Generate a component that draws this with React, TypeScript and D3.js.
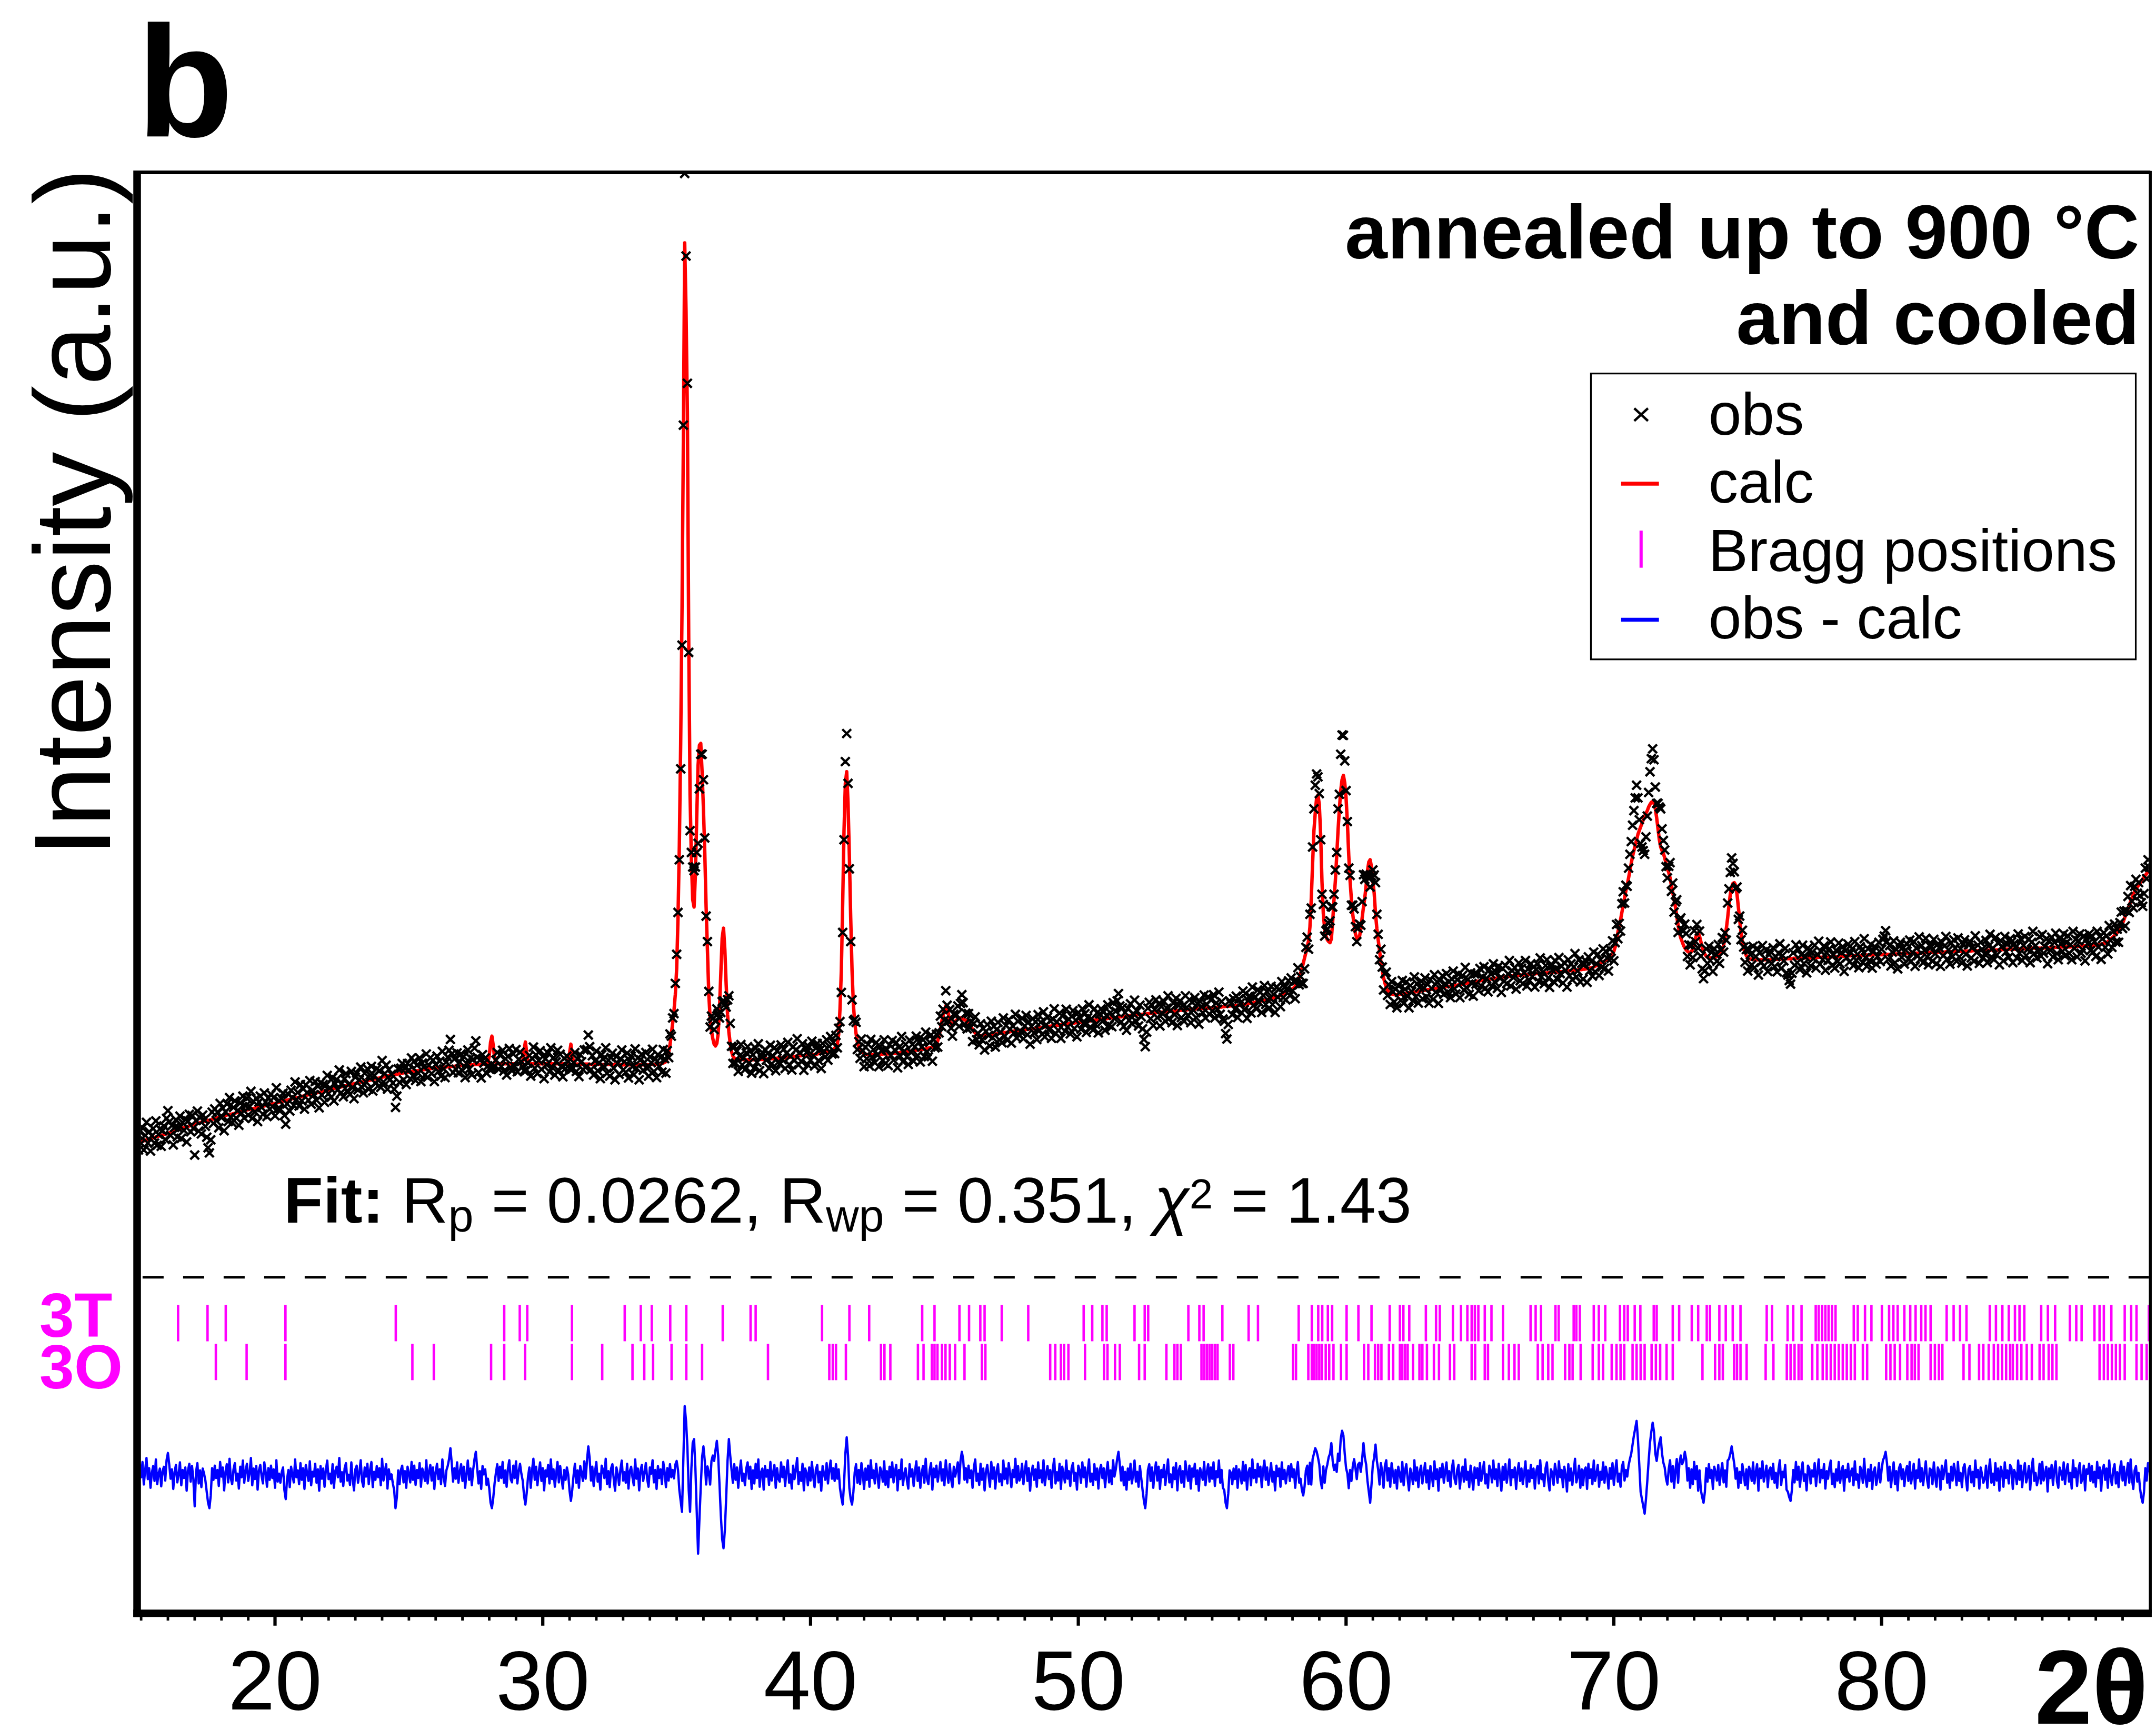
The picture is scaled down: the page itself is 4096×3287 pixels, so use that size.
import React from 'react';
import * as d3 from 'd3';

// ---------- scale of the drawing (reference px -> window px) ----------
const S = 0.691;
const r = (v: number) => v * S;
const W = 4096;
const H = 3287;

// ---------- scan definition ----------
const SCAN_START = 14.85; // 2theta of first point
const SCAN_STEP = 0.05;   // 2theta step

// calculated profile (a.u.), one row per degree of 2theta (20 points)
const calcIntensity: number[] = [
  1290,1292,1293,1295,1296,1297,1298,1300,1301,1302,1303,1304,1305,1306,1308,1309,1310,1311,1312,1313,
  1314,1315,1317,1318,1319,1321,1322,1323,1324,1326,1327,1328,1329,1331,1332,1333,1334,1336,1337,1338,
  1339,1341,1342,1343,1344,1345,1346,1347,1348,1349,1350,1351,1352,1353,1354,1355,1356,1357,1358,1360,
  1361,1362,1363,1364,1365,1366,1367,1368,1369,1370,1370,1371,1372,1373,1374,1375,1376,1377,1378,1379,
  1380,1381,1382,1383,1384,1385,1386,1386,1387,1388,1389,1390,1391,1391,1392,1393,1394,1395,1395,1397,
  1398,1398,1399,1400,1401,1402,1403,1404,1405,1406,1407,1408,1409,1410,1411,1412,1413,1414,1415,1415,
  1416,1417,1418,1419,1420,1421,1422,1423,1424,1424,1425,1426,1427,1428,1429,1430,1430,1431,1432,1433,
  1434,1435,1436,1437,1438,1439,1440,1441,1442,1442,1443,1444,1445,1446,1447,1448,1448,1449,1450,1451,
  1452,1453,1454,1455,1456,1457,1458,1458,1459,1460,1461,1462,1463,1463,1464,1465,1466,1467,1467,1469,
  1469,1470,1471,1472,1473,1473,1474,1475,1476,1476,1477,1478,1479,1479,1480,1481,1482,1482,1483,1484,
  1485,1486,1486,1487,1487,1488,1488,1489,1489,1490,1490,1491,1491,1492,1493,1493,1494,1494,1495,1496,
  1496,1497,1497,1498,1498,1498,1499,1499,1499,1500,1500,1500,1501,1501,1501,1502,1502,1502,1503,1503,
  1504,1504,1505,1505,1505,1505,1505,1506,1506,1506,1506,1506,1507,1507,1507,1507,1507,1507,1508,1508,
  1508,1509,1512,1530,1568,1585,1560,1525,1512,1509,1509,1509,1509,1509,1509,1509,1509,1509,1509,1509,
  1509,1509,1509,1509,1509,1509,1509,1510,1515,1545,1569,1540,1514,1510,1509,1509,1509,1509,1509,1509,
  1509,1509,1509,1509,1509,1509,1509,1509,1509,1509,1509,1509,1509,1509,1509,1509,1509,1509,1509,1509,
  1508,1508,1512,1538,1563,1535,1512,1508,1508,1508,1508,1508,1508,1508,1508,1508,1508,1508,1508,1507,
  1507,1507,1507,1507,1507,1507,1507,1507,1507,1507,1507,1507,1507,1507,1507,1507,1507,1507,1507,1507,
  1506,1506,1506,1506,1506,1506,1506,1506,1506,1506,1506,1506,1506,1506,1506,1506,1506,1506,1506,1506,
  1506,1506,1506,1506,1507,1507,1507,1507,1508,1508,1509,1509,1510,1511,1513,1515,1525,1540,1560,1590,
  1620,1655,1700,1770,1910,2110,2390,2760,3220,3766,3580,3300,2680,2250,2070,1960,1940,2030,2190,2330,
  2385,2390,2310,2210,2090,1940,1820,1700,1635,1600,1578,1563,1558,1565,1592,1660,1760,1855,1882,1822,
  1725,1645,1596,1565,1542,1530,1525,1523,1522,1522,1521,1521,1521,1520,1520,1520,1520,1520,1520,1520,
  1520,1520,1520,1520,1520,1521,1521,1521,1521,1522,1522,1522,1523,1523,1523,1523,1524,1524,1524,1524,
  1525,1525,1525,1525,1525,1526,1526,1527,1527,1528,1529,1529,1530,1530,1530,1531,1531,1532,1532,1532,
  1533,1533,1533,1533,1534,1534,1535,1535,1536,1537,1537,1538,1539,1539,1540,1541,1541,1542,1543,1545,
  1548,1552,1556,1562,1590,1660,1765,1950,2150,2280,2312,2225,2080,1910,1765,1672,1622,1592,1568,1555,
  1548,1543,1540,1538,1536,1535,1535,1534,1534,1534,1534,1534,1535,1535,1535,1535,1535,1536,1536,1536,
  1536,1536,1537,1537,1537,1538,1538,1538,1539,1539,1540,1540,1541,1541,1542,1542,1543,1543,1544,1545,
  1545,1546,1546,1547,1547,1548,1548,1549,1549,1550,1551,1552,1553,1554,1555,1556,1558,1563,1572,1585,
  1603,1625,1642,1656,1668,1665,1646,1627,1617,1617,1621,1625,1629,1632,1634,1635,1634,1632,1630,1628,
  1624,1620,1615,1610,1604,1598,1594,1590,1588,1587,1587,1587,1587,1588,1588,1588,1589,1589,1589,1590,
  1590,1591,1591,1592,1592,1593,1594,1594,1595,1595,1596,1596,1597,1598,1598,1599,1599,1600,1600,1601,
  1601,1602,1602,1603,1603,1604,1604,1605,1605,1606,1606,1607,1607,1608,1608,1609,1609,1610,1610,1611,
  1611,1612,1612,1613,1613,1614,1614,1615,1615,1616,1616,1617,1617,1618,1618,1619,1619,1620,1620,1621,
  1621,1622,1622,1623,1623,1624,1624,1625,1625,1626,1626,1627,1627,1628,1628,1629,1629,1630,1630,1631,
  1631,1632,1632,1633,1633,1634,1634,1635,1635,1635,1636,1636,1637,1637,1638,1638,1639,1639,1640,1640,
  1641,1641,1642,1642,1642,1643,1643,1644,1644,1644,1645,1645,1646,1646,1646,1647,1647,1648,1648,1648,
  1649,1649,1650,1650,1650,1651,1651,1651,1652,1652,1652,1653,1653,1654,1654,1654,1655,1655,1655,1656,
  1656,1656,1657,1657,1657,1658,1658,1658,1659,1659,1659,1660,1660,1660,1660,1661,1661,1661,1662,1662,
  1662,1662,1663,1663,1663,1664,1664,1664,1665,1665,1665,1666,1666,1667,1667,1667,1668,1668,1668,1669,
  1669,1669,1670,1670,1671,1671,1672,1672,1673,1673,1674,1675,1676,1676,1677,1678,1679,1680,1681,1682,
  1682,1683,1683,1684,1685,1686,1687,1688,1689,1690,1691,1692,1694,1695,1697,1699,1701,1704,1707,1709,
  1711,1712,1714,1715,1718,1722,1728,1736,1746,1758,1770,1785,1800,1815,1830,1848,1885,1962,2060,2150,
  2200,2240,2248,2222,2140,2010,1922,1880,1860,1850,1845,1842,1852,1900,1960,2012,2080,2150,2210,2260,
  2290,2302,2282,2240,2170,2082,2012,1960,1920,1890,1866,1855,1852,1858,1880,1910,1940,1966,2000,2040,
  2064,2070,2050,2012,1978,1922,1880,1850,1820,1790,1766,1746,1731,1719,1711,1706,1703,1701,1700,1699,
  1699,1699,1700,1700,1701,1701,1702,1702,1703,1703,1704,1705,1705,1706,1706,1707,1707,1708,1709,1709,
  1710,1711,1711,1712,1713,1713,1714,1714,1715,1715,1716,1717,1717,1718,1718,1719,1720,1720,1721,1721,
  1722,1722,1723,1723,1724,1725,1725,1726,1727,1727,1728,1729,1730,1730,1731,1732,1732,1733,1734,1734,
  1735,1736,1736,1737,1738,1738,1739,1739,1740,1741,1741,1742,1742,1743,1744,1744,1745,1745,1746,1747,
  1747,1748,1748,1749,1749,1749,1750,1750,1751,1751,1751,1752,1752,1752,1753,1753,1754,1754,1754,1755,
  1755,1755,1756,1756,1756,1757,1757,1757,1758,1758,1758,1758,1759,1759,1759,1760,1760,1760,1761,1761,
  1761,1761,1762,1762,1762,1763,1763,1764,1764,1764,1765,1765,1766,1766,1766,1767,1767,1768,1768,1768,
  1769,1769,1770,1770,1771,1772,1773,1774,1775,1777,1779,1781,1783,1785,1787,1789,1791,1794,1797,1800,
  1804,1808,1813,1818,1830,1850,1870,1890,1905,1925,1945,1965,1985,2000,2020,2040,2060,2080,2095,2110,
  2125,2140,2150,2160,2170,2180,2190,2198,2205,2215,2222,2228,2230,2225,2210,2185,2155,2125,2105,2095,
  2088,2075,2060,2045,2035,2020,2000,1980,1960,1940,1915,1890,1870,1855,1845,1835,1828,1822,1818,1816,
  1815,1818,1825,1838,1855,1866,1869,1860,1845,1830,1818,1810,1805,1802,1801,1800,1800,1800,1801,1802,
  1805,1808,1811,1815,1822,1835,1855,1880,1910,1945,1975,1995,2005,2007,2000,1975,1940,1905,1870,1845,
  1825,1815,1806,1801,1798,1797,1796,1796,1795,1795,1795,1795,1795,1795,1795,1795,1795,1795,1795,1795,
  1795,1795,1796,1796,1796,1796,1796,1797,1797,1797,1797,1797,1798,1798,1798,1798,1798,1799,1799,1799,
  1799,1799,1799,1799,1799,1800,1800,1800,1800,1800,1800,1801,1801,1801,1801,1801,1802,1802,1802,1802,
  1802,1802,1802,1802,1803,1803,1803,1803,1804,1804,1804,1804,1804,1805,1805,1805,1805,1806,1806,1806,
  1806,1806,1806,1806,1806,1807,1807,1807,1807,1807,1807,1808,1808,1808,1808,1808,1809,1809,1809,1809,
  1809,1809,1809,1809,1809,1810,1810,1810,1810,1810,1810,1811,1811,1811,1811,1811,1812,1812,1812,1812,
  1812,1812,1812,1812,1812,1813,1813,1813,1813,1813,1813,1814,1814,1814,1814,1814,1815,1815,1815,1815,
  1815,1815,1815,1815,1815,1816,1816,1816,1816,1816,1816,1817,1817,1817,1817,1817,1818,1818,1818,1818,
  1818,1818,1818,1818,1818,1819,1819,1819,1819,1819,1819,1820,1820,1820,1820,1820,1821,1821,1821,1821,
  1821,1821,1821,1821,1821,1822,1822,1822,1822,1822,1822,1823,1823,1823,1823,1823,1824,1824,1824,1824,
  1824,1824,1824,1824,1824,1825,1825,1825,1825,1825,1825,1826,1826,1826,1826,1826,1827,1827,1827,1827,
  1827,1827,1827,1827,1827,1828,1828,1828,1828,1828,1828,1829,1829,1829,1829,1829,1830,1830,1830,1830,
  1830,1830,1830,1830,1830,1831,1831,1831,1831,1832,1832,1832,1833,1833,1833,1833,1834,1834,1834,1835,
  1835,1835,1835,1835,1836,1837,1837,1838,1839,1840,1841,1842,1845,1848,1851,1855,1858,1862,1866,1870,
  1875,1880,1887,1895,1905,1915,1925,1935,1945,1955,1965,1975,1983,1990,1995,2000,2006,2012,2017,2022,
  2027,2032,2036,2040,
];

// difference obs - calc (a.u.), same grid
const obsMinusCalc: number[] = [
  8,-20,30,-5,37,-25,14,48,-10,20,-34,7,26,-15,44,-24,5,19,-30,12,
  24,-14,42,62,30,-9,17,-37,10,29,-19,3,36,-27,15,-7,22,-42,14,32,
  -17,26,-10,-85,9,34,-22,14,-32,19,5,-14,-45,-75,-90,-55,20,-12,27,-7,
  15,-29,37,-3,22,-41,10,31,-19,46,-8,-24,17,34,-14,5,-36,24,-5,41,
  -20,12,32,-15,7,48,-27,19,-10,26,-39,14,29,-2,-22,36,10,-31,20,-12,
  27,-7,17,-34,42,-17,5,-20,9,22,-40,-65,-10,15,-32,24,3,-19,44,-5,
  14,-24,34,-12,20,-37,29,7,-15,39,-27,10,-3,32,-20,17,-42,26,-9,19,
  -31,15,41,-10,5,-22,31,-34,12,24,-5,48,-17,9,-29,20,34,-14,2,-26,
  36,-9,-41,17,27,-20,7,42,-15,-31,22,-3,32,-24,14,37,-32,10,-12,26,
  -5,20,-27,46,-14,9,31,-36,17,-10,3,-22,-40,-90,-60,14,-24,15,27,-19,
  12,-34,24,5,-19,37,-12,27,-26,15,-7,34,-31,19,7,-15,42,-22,10,29,
  -14,22,-37,9,32,-10,17,-24,44,-5,-29,14,26,45,75,34,-17,20,-9,36,
  -20,10,31,-15,24,-34,5,41,-12,19,-27,15,45,65,20,-22,12,-37,26,3,
  17,-26,-9,-35,-75,-90,-62,-22,7,31,-15,24,-7,37,-20,14,-31,20,42,-10,
  -19,27,-7,39,-22,12,32,5,-14,-55,-80,-48,-3,22,-34,15,46,-12,24,-27,
  9,36,-15,20,-41,14,-3,29,-22,44,-10,17,-31,5,37,-19,26,-7,-36,15,
  -12,22,3,-42,-70,-40,0,32,-20,14,-34,26,7,-15,39,-9,40,80,48,-14,
  24,-29,10,37,-17,5,-39,27,15,-7,46,-24,12,-32,19,31,-10,-42,22,3,
  -26,17,41,-14,9,-20,32,-36,12,24,-5,-27,44,-9,19,-41,14,29,-15,7,
  34,-10,-31,22,5,42,-19,15,-37,26,-7,17,-24,37,10,-32,20,-14,31,-5,
  15,-8,30,40,15,-40,-70,-100,45,191,150,80,-40,-100,20,90,100,20,-100,-215,
  -120,-30,50,80,40,-25,25,8,-25,40,55,40,70,95,55,-25,-110,-175,-200,-150,
  -60,40,100,55,15,-20,31,-12,22,-34,10,41,-15,5,-27,19,36,-9,24,-37,
  14,-22,32,-7,44,-31,9,19,-39,26,-3,15,-26,37,-14,7,29,-34,20,-10,
  -17,36,-5,24,-29,12,42,-20,3,-36,27,-10,17,48,-24,9,-15,32,-41,19,
  7,-27,22,-14,37,-3,-32,17,29,-19,10,-42,26,5,-12,34,-22,15,41,-9,
  20,-15,31,-9,17,-35,-60,-80,-25,60,105,55,-35,-65,-80,-45,9,31,-20,15,
  -24,34,5,-37,19,-12,27,-31,42,-7,14,-22,32,-2,-34,22,10,-17,39,-26,
  12,-32,24,-5,36,-19,9,29,-41,15,-10,44,-26,3,20,-14,-36,31,-3,17,
  -29,10,39,-15,22,-34,7,26,-20,46,-9,-24,15,34,-39,19,-5,27,-17,9,
  37,-14,17,-27,42,5,-20,31,-10,-32,24,-3,15,36,-22,40,65,45,-12,20,
  -19,27,-7,14,-34,22,44,-15,5,-26,32,-12,19,-41,10,29,-2,-31,37,-9,
  22,-36,12,31,-17,3,-27,41,-10,19,-22,34,7,-32,15,-5,46,-20,26,-14,
  -3,32,-24,10,39,-15,20,-42,7,27,-12,17,-31,36,-7,14,-19,42,-27,5,
  26,-10,15,-34,19,46,-22,9,-14,32,-37,24,3,-19,41,-9,12,-29,20,34,
  -15,7,-39,27,14,-20,36,-5,22,-31,10,44,-17,5,-26,31,-12,19,-36,15,
  29,-7,20,-32,9,37,-19,14,-24,42,-3,17,45,65,30,-14,24,-27,10,-39,
  19,-12,32,-22,5,41,-17,10,-31,26,-7,-40,-70,-90,-50,15,31,-15,22,-34,
  9,36,-14,24,-37,15,-5,29,-26,10,44,-19,3,-32,22,-10,34,-41,14,26,
  -20,12,-31,39,7,-15,27,-36,19,-3,32,-24,14,-42,20,5,-12,37,-27,10,
  31,-17,22,-9,36,-29,12,-5,41,-20,15,-34,-40,-75,-90,-50,14,7,-24,19,
  -10,26,-34,17,5,-22,37,-14,29,-39,9,20,-27,44,-7,15,-19,32,-3,24,
  -32,14,41,-12,22,-26,3,34,-17,10,-41,27,-2,19,-31,36,-10,15,-22,7,
  26,-15,31,-5,17,-34,10,37,-20,-9,-40,-55,-30,14,27,-24,35,-25,45,60,
  75,66,50,30,-15,-35,25,-20,15,30,50,60,89,40,15,30,10,60,40,100,
  123,110,60,20,5,-35,15,-15,25,45,20,-10,30,35,10,45,89,50,30,-15,
  -45,-75,-25,30,50,85,40,15,-25,34,9,-34,26,42,-14,20,-31,34,7,-20,
  15,-36,24,5,-17,37,-27,12,31,-9,-41,19,3,-24,42,-14,22,-32,10,27,
  -22,7,34,-19,14,-37,26,2,-29,39,-10,17,-42,20,-5,32,-20,9,36,-15,
  12,-31,19,41,-9,-24,15,29,-36,5,24,-17,44,-12,10,-32,27,-3,-39,22,
  -7,20,-26,34,-15,9,37,-22,3,-34,27,14,-19,41,-10,17,-29,32,-2,-42,
  24,-12,31,-20,7,44,-27,15,-5,22,-37,10,34,-15,19,-24,5,39,-31,14,
  -17,29,-7,19,-36,12,26,-22,42,-10,3,-29,20,36,-14,-41,17,7,-26,32,
  10,-20,39,-5,15,-32,24,2,-44,31,-14,19,-26,9,46,-19,-3,27,-34,17,
  -27,14,22,-37,32,-7,17,-24,41,-15,5,29,-31,10,-12,36,-20,24,3,-36,
  20,-9,34,-26,12,42,-17,5,-31,24,37,-14,15,-3,27,45,60,85,110,130,
  150,100,30,-45,-65,-85,-105,-65,-15,40,90,120,145,120,60,40,70,90,105,60,
  35,22,-9,-25,17,42,-17,26,-34,14,45,-20,34,55,31,40,65,45,-14,20,
  -34,17,-24,37,-10,26,-42,14,-40,-60,-75,-45,20,-17,31,-7,15,-37,24,9,
  -14,29,-26,7,34,-19,14,-31,41,45,60,80,55,30,-9,20,-34,10,-20,31,
  5,-27,17,-37,24,12,-15,36,-22,9,31,-42,19,-7,39,-17,3,27,-32,14,
  22,-10,32,-20,7,-34,17,42,-26,10,-5,29,-39,-45,-60,-70,-40,15,-19,37,
  -12,24,-31,10,36,-15,3,-41,27,19,-22,14,-3,34,-29,9,44,-19,15,-7,
  31,-36,12,-9,22,41,-24,5,-32,17,-14,37,-20,10,26,-42,15,-5,32,-17,
  9,19,-27,39,-12,3,-34,24,14,-20,46,-7,-31,17,-15,29,-37,10,22,-26,
  -5,34,-19,15,42,50,65,35,-14,24,-32,5,36,-24,12,-41,20,31,-10,17,
  -29,10,26,-15,37,-22,2,32,-36,14,-7,44,-17,20,-27,7,39,-12,-34,19,
  15,-24,36,-3,-31,22,12,-39,27,-10,17,42,-20,5,-34,24,-14,32,9,-27,
  37,-15,7,-32,20,31,-9,-41,17,26,-19,10,-29,41,-5,15,-36,22,3,-20,
  -10,27,-34,12,44,-20,5,-26,34,-14,19,-42,24,9,-31,36,-7,14,-22,29,
  20,-37,15,5,-24,41,-12,27,-32,10,34,-19,-3,26,-39,17,46,-15,7,-27,
  -9,32,-22,37,-14,3,24,-44,19,-7,29,-26,14,39,-17,-34,22,9,-12,36,
  -24,12,31,-17,7,-36,42,-5,20,-29,15,34,-20,-10,27,-41,17,5,32,-15,
  26,-19,10,-31,37,-7,22,-42,14,29,-12,19,-34,41,-3,-26,15,31,-22,9,
  -32,17,39,-14,24,-27,5,34,-20,44,-9,-37,14,26,-17,7,-35,-60,-75,-45,
  20,-14,34,9,
];

// Bragg reflection positions (2theta)
const bragg3T: number[] = [
  16.38,17.48,18.16,20.39,24.51,28.56,29.14,29.42,31.09,33.06,33.66,34.07,34.76,35.36,36.72,37.76,37.95,
  40.43,41.45,42.19,44.17,44.63,45.56,45.92,46.34,46.5,47.14,48.13,50.2,50.52,50.9,51.06,52.1,52.48,52.61,
  54.11,54.52,54.68,55.38,56.36,56.71,58.23,58.72,58.96,59.11,59.32,59.48,60.02,60.46,60.95,61.63,62.01,
  62.14,62.36,62.98,63.36,63.5,63.99,64.29,64.53,64.69,64.81,64.94,65.18,65.43,65.86,66.89,67.08,67.28,
  67.82,67.94,68.5,68.6,68.73,69.25,69.44,69.68,70.23,70.39,70.52,70.78,70.99,71.49,71.6,72.2,72.44,72.91,
  73.15,73.47,73.59,73.94,74.18,74.44,74.73,75.71,75.91,76.49,76.7,77.01,77.54,77.65,77.78,77.9,78.02,
  78.15,78.28,78.96,79.11,79.38,79.62,80.01,80.28,80.44,80.6,80.85,81.07,81.27,81.48,81.64,81.83,82.43,
  82.69,82.93,83.17,84.04,84.27,84.51,84.75,84.98,85.15,85.33,85.96,86.21,86.48,87.03,87.27,87.47,87.95,
  88.14,88.3,88.58,89.08,89.32,89.52,89.98,
];
const bragg3O: number[] = [
  17.79,18.94,20.39,25.13,25.93,28.07,28.56,29.34,31.09,32.22,33.35,33.79,34.12,34.81,35.36,35.95,38.41,
  40.7,40.83,40.95,41.32,42.63,42.76,42.98,44.01,44.22,44.53,44.63,44.74,44.91,45.04,45.2,45.4,45.75,46.4,
  46.53,48.95,49.14,49.35,49.47,49.63,50.25,50.96,51.09,51.37,51.55,52.27,52.48,53.29,53.59,53.7,53.83,
  54.6,54.7,54.8,54.9,55.0,55.1,55.2,55.66,55.79,58.02,58.13,58.59,58.72,58.8,58.9,59.0,59.1,59.24,59.37,
  59.53,59.81,60.02,60.67,60.83,61.08,61.2,61.32,61.6,61.76,62.01,62.1,62.2,62.3,62.5,62.74,62.85,63.02,
  63.28,63.47,63.88,64.04,64.69,64.82,65.18,65.3,65.86,66.08,66.29,66.45,67.16,67.34,67.55,67.71,68.18,
  68.34,68.46,68.76,69.21,69.44,69.6,69.92,70.1,70.25,70.39,70.7,70.85,71.0,71.15,71.41,71.57,71.73,71.97,
  72.2,73.31,73.78,73.94,74.07,74.49,74.6,74.73,74.96,75.67,75.96,76.46,76.6,76.75,76.9,77.01,77.41,77.6,
  77.8,77.95,78.1,78.25,78.4,78.55,78.7,78.85,79.0,79.3,79.46,80.17,80.33,80.49,80.69,80.96,81.12,81.24,
  81.38,81.83,81.99,82.14,82.27,83.06,83.28,83.64,83.8,84.0,84.19,84.35,84.5,84.65,84.8,84.9,85.06,85.22,
  85.42,85.61,85.9,86.05,86.24,86.38,86.53,88.14,88.3,88.45,88.6,88.75,88.9,89.08,89.52,89.71,89.9,
];

const majorTickValues: number[] = [20, 30, 40, 50, 60, 70, 80];
const tickLabels: string[] = ['20', '30', '40', '50', '60', '70', '80'];
const DIFF_OFFSET = 377; // vertical offset of the obs - calc curve (a.u.)
const X_DOMAIN: [number, number] = [14.85, 90.03];
const Y_DOMAIN: [number, number] = [0, 3959];

const legendItems: string[] = ['obs', 'calc', 'Bragg positions', 'obs - calc'];
const phaseLabels: string[] = ['3T', '3O'];

const FONT = "'Liberation Sans', Arial, Helvetica, sans-serif";

export default function App() {
  const x = d3.scaleLinear().domain(X_DOMAIN).range([r(377), r(5911.6)]);
  const y = d3.scaleLinear().domain(Y_DOMAIN).range([r(4434), r(475)]);

  const n = Math.min(calcIntensity.length, obsMinusCalc.length);
  const scan = d3.range(n).map((i) => {
    const t = +(SCAN_START + i * SCAN_STEP).toFixed(2);
    const calc = calcIntensity[i];
    const diff = obsMinusCalc[i];
    return { t, calc, diff, obs: calc + diff };
  });

  const calcPath = d3.line<any>().x((d) => x(d.t)).y((d) => y(d.calc))(scan) || '';
  const diffPath = d3.line<any>().x((d) => x(d.t)).y((d) => y(DIFF_OFFSET + d.diff))(scan) || '';
  const h = r(12);
  const obsPath = scan
    .map((d) => {
      const cx = x(d.t), cy = y(d.obs);
      return `M${(cx - h).toFixed(1)},${(cy - h).toFixed(1)}L${(cx + h).toFixed(1)},${(cy + h).toFixed(1)}M${(cx - h).toFixed(1)},${(cy + h).toFixed(1)}L${(cx + h).toFixed(1)},${(cy - h).toFixed(1)}`;
    })
    .join('');

  const minorTicks = d3.range(15, 90).filter((v) => v % 10 !== 0);

  const braggRow = (vals: number[], y1: number, y2: number, key: string) => (
    <g key={key} stroke="#ff00ff" strokeWidth={4.6}>
      {vals.map((v, i) => (
        <line key={i} x1={x(v)} x2={x(v)} y1={r(y1)} y2={r(y2)} />
      ))}
    </g>
  );

  const legX = r(4512);
  const legBase = [1196, 1382, 1570, 1755];

  return (
    <svg
      width={W}
      height={H}
      viewBox={`0 0 ${W} ${H}`}
      style={{ position: 'absolute', left: 0, top: 0, display: 'block', background: '#fff' }}
      fontFamily={FONT}
    >
      <rect x={0} y={0} width={W} height={H} fill="#ffffff" />
      <defs>
        <clipPath id="plotClip">
          <rect x={r(387)} y={r(479)} width={r(5908 - 387)} height={r(4426 - 479)} />
        </clipPath>
      </defs>

      {/* panel letter */}
      <text x={r(376)} y={r(375)} fontSize={r(435)} fontWeight="bold" fill="#000">b</text>

      {/* y axis title */}
      <text
        transform={`translate(${r(302)},${r(1409)}) rotate(-90)`}
        textAnchor="middle"
        fontSize={r(299)}
        fill="#000"
      >
        Intensity (a.u.)
      </text>

      {/* dashed separator */}
      <line
        x1={r(392)}
        x2={r(5908)}
        y1={r(3512)}
        y2={r(3512)}
        stroke="#000"
        strokeWidth={5}
        strokeDasharray="40 37"
      />

      {/* Bragg ticks */}
      <g clipPath="url(#plotClip)">
        {braggRow(bragg3T, 3588, 3688, 't')}
        {braggRow(bragg3O, 3695, 3795, 'o')}
      </g>
      <text x={r(108)} y={r(3676)} fontSize={r(172)} fontWeight="bold" fill="#ff00ff">{phaseLabels[0]}</text>
      <text x={r(108)} y={r(3818)} fontSize={r(172)} fontWeight="bold" fill="#ff00ff">{phaseLabels[1]}</text>

      {/* data */}
      <g clipPath="url(#plotClip)">
        <path d={calcPath} fill="none" stroke="#ff0000" strokeWidth={6.5} strokeLinejoin="round" />
        <path d={obsPath} fill="none" stroke="#000" strokeWidth={4.4} />
        <path d={diffPath} fill="none" stroke="#0000ff" strokeWidth={4.4} strokeLinejoin="round" />
      </g>

      {/* frame */}
      <line x1={r(377)} x2={r(5912)} y1={r(474)} y2={r(474)} stroke="#000" strokeWidth={r(10)} />
      <line x1={r(5912)} x2={r(5912)} y1={r(470)} y2={r(4436)} stroke="#000" strokeWidth={r(8)} />
      <line x1={r(377)} x2={r(377)} y1={r(469)} y2={r(4446)} stroke="#000" strokeWidth={r(21)} />
      <line x1={r(366.5)} x2={r(5916)} y1={r(4436)} y2={r(4436)} stroke="#000" strokeWidth={r(20)} />

      {/* ticks */}
      <g stroke="#000">
        {majorTickValues.map((v) => (
          <line key={'M' + v} x1={x(v)} x2={x(v)} y1={r(4440)} y2={r(4470)} strokeWidth={r(9)} />
        ))}
        {minorTicks.map((v) => (
          <line key={'m' + v} x1={x(v)} x2={x(v)} y1={r(4440)} y2={r(4456)} strokeWidth={r(7)} />
        ))}
      </g>
      <g fontSize={r(232)} fill="#000" textAnchor="middle">
        {majorTickValues.map((v, i) => (
          <text key={v} x={x(v)} y={r(4701)}>{tickLabels[i]}</text>
        ))}
      </g>
      <text
        x={r(5906)}
        y={r(4740)}
        textAnchor="end"
        fontSize={r(290)}
        fontWeight="bold"
        fill="#000"
        textLength={r(312)}
        lengthAdjust="spacingAndGlyphs"
      >
        2θ
      </text>

      {/* sample annotation */}
      <g fontSize={r(210)} fontWeight="bold" fill="#000" textAnchor="end">
        <text x={r(5882)} y={r(710)}>annealed up to 900 °C</text>
        <text x={r(5882)} y={r(946)}>and cooled</text>
      </g>

      {/* legend */}
      <rect x={r(4374)} y={r(1027)} width={r(1498)} height={r(786)} fill="#fff" stroke="#000" strokeWidth={3.2} />
      <path
        d={`M${legX - 13},${r(1140) - 12}L${legX + 13},${r(1140) + 12}M${legX - 13},${r(1140) + 12}L${legX + 13},${r(1140) - 12}`}
        stroke="#000"
        strokeWidth={4.5}
        fill="none"
      />
      <line x1={r(4457)} x2={r(4561)} y1={r(1330)} y2={r(1330)} stroke="#ff0000" strokeWidth={7.5} />
      <line x1={legX} x2={legX} y1={r(1459)} y2={r(1561)} stroke="#ff00ff" strokeWidth={6} />
      <line x1={r(4457)} x2={r(4561)} y1={r(1704)} y2={r(1704)} stroke="#0000ff" strokeWidth={7.5} />
      <g fontSize={r(163)} fill="#000">
        {legendItems.map((t, i) => (
          <text key={t} x={r(4697)} y={r(legBase[i])}>{t}</text>
        ))}
      </g>

      {/* fit statistics */}
      <text x={r(780)} y={r(3362)} fontSize={r(177)} fill="#000" style={{ whiteSpace: 'pre' }}>
        <tspan fontWeight="bold">Fit:</tspan>
        <tspan>{' R'}</tspan>
        <tspan fontSize={r(125)} dy={r(25)}>p</tspan>
        <tspan dy={-r(25)}>{' = 0.0262, R'}</tspan>
        <tspan fontSize={r(125)} dy={r(25)}>wp</tspan>
        <tspan dy={-r(25)}>{' = 0.351, '}</tspan>
        <tspan fontStyle="italic">χ</tspan>
        <tspan fontSize={r(116)} dy={-r(40)}>2</tspan>
        <tspan dy={r(40)}>{' = 1.43'}</tspan>
      </text>
    </svg>
  );
}
